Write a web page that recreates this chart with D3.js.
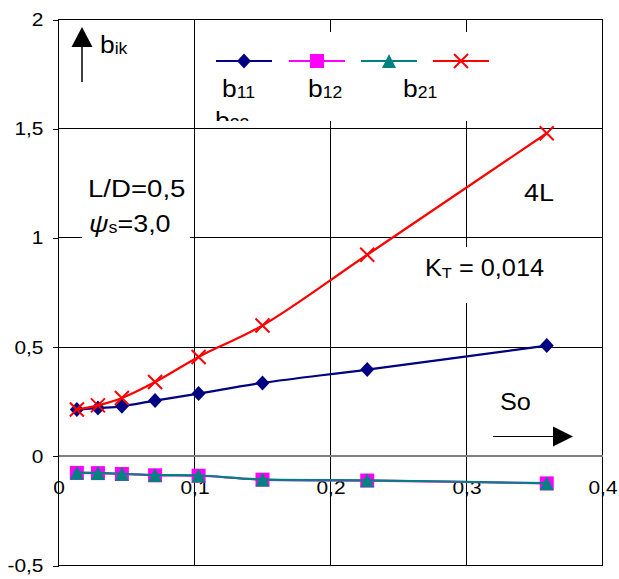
<!DOCTYPE html>
<html>
<head>
<meta charset="utf-8">
<script src="https://cdn.jsdelivr.net/npm/d3@7"></script>
<style>
  body { margin: 0; background: #fff; }
  svg { display: block; }
  text { font-family: "Liberation Sans", Arial, sans-serif; fill: #000; }
</style>
</head>
<body>
<script>
// Sommerfeld number So (x) and damping coefficients b_ik (y)
const so  = [0.0135, 0.029, 0.0466, 0.071, 0.103, 0.150, 0.227, 0.359];
const b11 = [0.214, 0.221, 0.229, 0.255, 0.287, 0.336, 0.397, 0.507];
const b12 = [-0.076, -0.077, -0.081, -0.087, -0.089, -0.107, -0.111, -0.124];
const b21 = [-0.075, -0.076, -0.080, -0.086, -0.088, -0.106, -0.110, -0.123];
const b22 = [0.214, 0.233, 0.267, 0.340, 0.455, 0.599, 0.923, 1.479];

const seriesNames  = ["11", "12", "21", "22"];
const seriesColors = ["#000080", "#FF00FF", "#008080", "#FF0000"];
const seriesMarks  = ["diamond", "square", "triangle", "cross"];

const xTicks = [0, 0.1, 0.2, 0.3, 0.4];
const xTickLabels = ["0", "0,1", "0,2", "0,3", "0,4"];
const yTicks = [-0.5, 0, 0.5, 1, 1.5, 2];
const yTickLabels = ["-0,5", "0", "0,5", "1", "1,5", "2"];

const W = 619, H = 579;
const SX = 1.1; // horizontal stretch of all lettering

const svg = d3.select("body").append("svg")
  .attr("width", W).attr("height", H);

const x = d3.scaleLinear().domain([0, 0.4]).range([58.5, 602.5]);
const y = d3.scaleLinear().domain([-0.5, 2]).range([565.5, 19.5]);

// ---- text helper: parts with optional subscript / italics ----
function label(g, px, py, parts, size, anchor, sx) {
  const t = g.append("text")
    .attr("transform", `translate(${px},${py}) scale(${sx || SX},1)`)
    .attr("font-size", size)
    .attr("text-anchor", anchor || "start");
  let shift = 0;
  parts.forEach(p => {
    const s = t.append("tspan").text(p.t);
    const want = p.sub ? (p.dy || 2) : 0;
    if (want !== shift) { s.attr("dy", want - shift); shift = want; }
    if (p.sub) s.attr("font-size", p.size || size * 0.64);
    if (p.italic) s.attr("font-style", "italic");
  });
  return t;
}

// ---- grid ----
const grid = svg.append("g").attr("shape-rendering", "crispEdges");
grid.selectAll("line.h")
  .data(yTicks.filter(v => v !== 0 && v !== -0.5 && v !== 2))
  .join("line")
  .attr("x1", x(0)).attr("x2", x(0.4))
  .attr("y1", d => y(d)).attr("y2", d => y(d))
  .attr("stroke", "#000").attr("stroke-width", 1);
grid.selectAll("line.v")
  .data(xTicks.filter(v => v > 0 && v < 0.4))
  .join("line")
  .attr("x1", d => x(d)).attr("x2", d => x(d))
  .attr("y1", y(2)).attr("y2", y(-0.5))
  .attr("stroke", "#000").attr("stroke-width", 1);

// plot frame
grid.append("rect")
  .attr("x", x(0)).attr("y", y(2))
  .attr("width", x(0.4) - x(0)).attr("height", y(-0.5) - y(2))
  .attr("fill", "none").attr("stroke", "#000").attr("stroke-width", 1);

// zero line
grid.append("line")
  .attr("x1", x(0)).attr("x2", x(0.4))
  .attr("y1", y(0)).attr("y2", y(0))
  .attr("stroke", "#808080").attr("stroke-width", 2);

// ---- y axis ----
const yAxis = svg.append("g")
  .attr("transform", `translate(${x(0)},0)`)
  .call(d3.axisLeft(y).tickValues(yTicks)
    .tickFormat((d, i) => yTickLabels[i]).tickSize(6).tickPadding(9));
yAxis.select(".domain").remove();
yAxis.selectAll(".tick line").attr("stroke", "#000").attr("shape-rendering", "crispEdges");
yAxis.selectAll(".tick text")
  .attr("font-size", 19)
  .each(function () {
    const tx = +d3.select(this).attr("x");
    d3.select(this).attr("x", 0).attr("transform", `translate(${tx},0) scale(${SX},1)`);
  });
yAxis.attr("font-family", null);

// ---- x axis labels along the zero line ----
const xAxis = svg.append("g")
  .attr("transform", `translate(0,${y(0)})`)
  .call(d3.axisBottom(x).tickValues(xTicks)
    .tickFormat((d, i) => xTickLabels[i]).tickSize(0).tickPadding(24));
xAxis.select(".domain").remove();
xAxis.attr("font-family", null);
xAxis.selectAll(".tick text")
  .attr("font-size", 19)
  .each(function () {
    const ty = +d3.select(this).attr("y");
    d3.select(this).attr("y", 0).attr("transform", `translate(0,${ty}) scale(${SX},1)`);
  });

// ---- annotation boxes (white background over grid) ----
const boxes = svg.append("g");
boxes.append("rect").attr("x", 82).attr("y", 165).attr("width", 108).attr("height", 80).attr("fill", "#fff");
boxes.append("rect").attr("x", 415).attr("y", 247).attr("width", 135).attr("height", 56).attr("fill", "#fff");

// ---- series ----
const data = [b11, b12, b21, b22].map((vals, i) => ({
  name: seriesNames[i], color: seriesColors[i], mark: seriesMarks[i],
  pts: vals.map((v, j) => ({ x: so[j], y: v }))
}));

const line = d3.line()
  .x(d => x(d.x)).y(d => y(d.y))
  .curve(d3.curveCatmullRom.alpha(0.5));

function marker(g, kind, color) {
  if (kind === "diamond") {
    g.append("path").attr("d", "M0,-7.5L7,0L0,7.5L-7,0Z").attr("fill", color);
  } else if (kind === "square") {
    g.append("rect").attr("x", -7).attr("y", -7).attr("width", 14).attr("height", 14).attr("fill", color);
  } else if (kind === "triangle") {
    g.append("path").attr("d", "M0,-7L7,7L-7,7Z").attr("fill", color);
  } else {
    g.append("path").attr("d", "M-7,-7L7,7M7,-7L-7,7")
      .attr("stroke", color).attr("stroke-width", 2).attr("fill", "none");
  }
}

const plot = svg.append("g");
data.forEach(s => {
  const g = plot.append("g");
  g.append("path").datum(s.pts)
    .attr("d", line).attr("fill", "none")
    .attr("stroke", s.color).attr("stroke-width", 2.2);
  g.selectAll("g.m").data(s.pts).join("g")
    .attr("transform", d => `translate(${x(d.x)},${y(d.y)})`)
    .each(function () { marker(d3.select(this), s.mark, s.color); });
});

// ---- legend ----
const legend = svg.append("g");
legend.append("rect").attr("x", 205).attr("y", 32).attr("width", 380).attr("height", 89).attr("fill", "#fff");
svg.append("clipPath").attr("id", "legclip")
  .append("rect").attr("x", 205).attr("y", 32).attr("width", 380).attr("height", 89);
const legendLineX = [216, 289, 361, 433];
const legendLabelX = [222, 308, 403, 215];
const legendLabelY = [97, 97, 97, 129];
const legendItems = legend.append("g").attr("clip-path", "url(#legclip)");
data.forEach((s, i) => {
  const x0 = legendLineX[i];
  legendItems.append("line")
    .attr("x1", x0).attr("x2", x0 + 56).attr("y1", 61).attr("y2", 61)
    .attr("stroke", s.color).attr("stroke-width", 2.2);
  const m = legendItems.append("g").attr("transform", `translate(${x0 + 28},61)`);
  marker(m, s.mark, s.color);
  label(legendItems, legendLabelX[i], legendLabelY[i],
    [{ t: "b" }, { t: s.name, sub: true, dy: 1, size: 16 }], 24);
});

// ---- annotations ----
const ann = svg.append("g");
// y-axis quantity arrow
ann.append("line").attr("x1", 82).attr("x2", 82).attr("y1", 45).attr("y2", 82)
  .attr("stroke", "#000").attr("stroke-width", 1.5);
ann.append("path").attr("d", "M82,27L92.5,47L71.5,47Z").attr("fill", "#000");
label(ann, 100, 53, [{ t: "b" }, { t: "ik", sub: true, dy: 1, size: 16 }], 24);

// x-axis quantity arrow
ann.append("line").attr("x1", 493).attr("x2", 555).attr("y1", 436.5).attr("y2", 436.5)
  .attr("stroke", "#000").attr("stroke-width", 1.2);
ann.append("path").attr("d", "M573,436.5L553,426.5L553,446.5Z").attr("fill", "#000");
label(ann, 500, 410, [{ t: "So" }], 23);

label(ann, 88, 197, [{ t: "L/D=0,5" }], 24, "start", 1.15);
label(ann, 89, 232, [{ t: "ψ", italic: true }, { t: "s", sub: true, dy: 1, size: 16 }, { t: "=3,0" }], 24, "start", 1.12);
label(ann, 524, 201, [{ t: "4L" }], 24, "start", 1.12);
label(ann, 425, 276, [{ t: "K" }, { t: "T", sub: true, dy: 2, size: 15 }, { t: " = 0,014" }], 23);
</script>
</body>
</html>
